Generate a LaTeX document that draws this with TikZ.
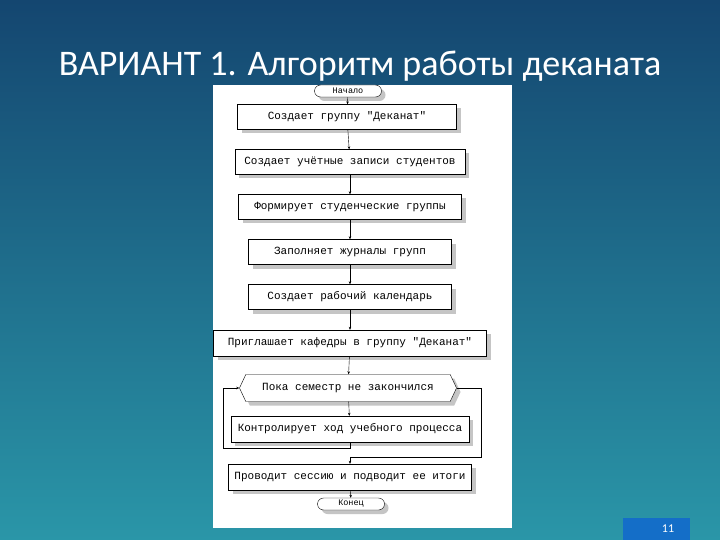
\documentclass[tikz,border=0pt]{standalone}
\usepackage{fontspec}
\setmainfont{Carlito}
\newfontfamily\monof{Liberation Mono}
\usetikzlibrary{shapes.misc,shapes.geometric,shapes.symbols,shadows,arrows.meta}
\definecolor{bgtop}{RGB}{20,70,112}
\definecolor{bgbot}{RGB}{42,150,168}
\definecolor{numbox}{RGB}{20,110,200}
\begin{document}
\begin{tikzpicture}[x=1pt,y=-1pt,
  fbox/.style={draw,fill=white,thin,font=\monof\fontsize{11}{12}\selectfont,inner sep=0pt,
    drop shadow={shadow xshift=4pt,shadow yshift=-4pt,fill=black!45,opacity=.5}},
  term/.style={fbox,rounded rectangle,minimum width=67pt,minimum height=12pt,font=\monof\fontsize{8.5}{9}\selectfont},
  arr/.style={-{Stealth[length=3pt,width=2.5pt]},thin}]
\useasboundingbox (0,0) rectangle (720,540);
\shade[top color=bgtop,bottom color=bgbot] (0,0) rectangle (720,540);
\node[text=white,font=\fontsize{36}{40}\selectfont,inner sep=0pt] (title) at (360,66) {ВАРИАНТ 1. Алгоритм работы деканата};
\fill[white] (213,85) rectangle (512,528);
\node[term] (n0) at (348,91) {Начало};
\node[fbox,minimum width=219pt,minimum height=25pt] (b1) at (347,117) {Создает группу "Деканат"};
\node[fbox,minimum width=230pt,minimum height=25pt] (b2) at (350,162) {Создает учётные записи студентов};
\node[fbox,minimum width=223pt,minimum height=25pt] (b3) at (350,207) {Формирует студенческие группы};
\node[fbox,minimum width=203pt,minimum height=25pt] (b4) at (350,252) {Заполняет журналы групп};
\node[fbox,minimum width=203pt,minimum height=25pt] (b5) at (350,297) {Создает рабочий календарь};
\node[fbox,minimum width=273pt,minimum height=26pt] (b6) at (350,343) {Приглашает кафедры в группу "Деканат"};
\node[fbox,signal,signal to=west and east,signal pointer angle=130,minimum width=217pt,minimum height=27pt] (hx) at (348,388) {Пока семестр не закончился};
\node[fbox,minimum width=238pt,minimum height=26pt] (b7) at (350,429) {Контролирует ход учебного процесса};
\node[fbox,minimum width=243pt,minimum height=26pt] (b8) at (350,477) {Проводит сессию и подводит ее итоги};
\node[term] (n1) at (351,504) {Конец};
\draw[arr] (n0) -- (b1);
\draw[arr] (b1) -- (b2);
\draw[arr] (b2) -- (b3);
\draw[arr] (b3) -- (b4);
\draw[arr] (b4) -- (b5);
\draw[arr] (b5) -- (b6);
\draw[arr] (b6) -- (hx);
\draw[arr] (hx) -- (b7);
\draw[arr] (b7.south) -- (350,448) -| (223,388) -- (hx.west);
\draw[arr] (hx.east) -- (481,388) |- (350,457) -- (b8.north);
\draw[arr] (b8) -- (n1);
\fill[numbox] (623,518) rectangle (690,540);
\node[text=white,font=\fontsize{12}{13}\selectfont] (pg) at (668,529) {11};
\end{tikzpicture}
\end{document}
